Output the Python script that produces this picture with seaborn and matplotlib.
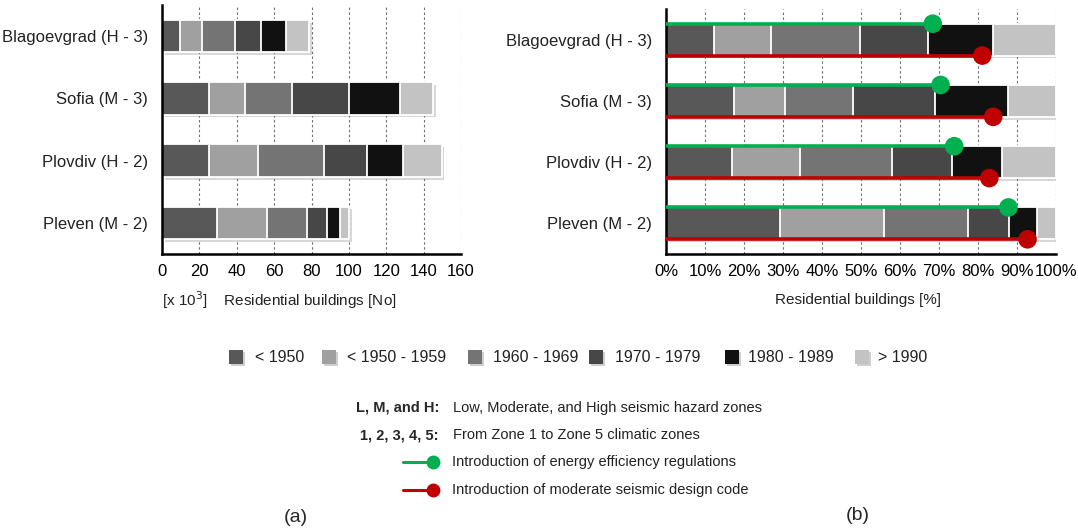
import numpy as np
import pandas as pd
import matplotlib.pyplot as plt
import matplotlib.patheffects as pe
from matplotlib.patches import Rectangle
from matplotlib.lines import Line2D
from matplotlib.ticker import FuncFormatter
import seaborn as sns

sns.set_style("white")
plt.rcParams['font.family'] = ['Liberation Sans', 'DejaVu Sans']

# ---------------- data ----------------
cities = ['Blagoevgrad (H - 3)', 'Sofia (M - 3)', 'Plovdiv (H - 2)', 'Pleven (M - 2)']
periods = ['< 1950', '< 1950 - 1959', '1960 - 1969', '1970 - 1979', '1980 - 1989', '> 1990']
colors = ['#585858', '#a0a0a0', '#747474', '#474747', '#111111', '#c3c3c3']

# residential buildings [x 10^3] per period
b_lt1950 = [9.8, 25.4, 25.4, 29.3]
b_1950s = [11.4, 18.8, 26.1, 26.8]
b_1960s = [18.0, 25.4, 35.2, 21.6]
b_1970s = [13.8, 30.5, 23.0, 10.5]
b_1980s = [13.2, 27.1, 19.0, 7.1]
b_gt1990 = [12.7, 17.9, 20.9, 5.0]

# share of buildings built before the regulation [%]
energy_eff = [68.4, 70.4, 73.9, 87.8]
seismic_code = [81.1, 83.9, 82.9, 92.7]

green = '#00b050'
red = '#c00000'

df = pd.DataFrame({periods[0]: b_lt1950, periods[1]: b_1950s, periods[2]: b_1960s,
                   periods[3]: b_1970s, periods[4]: b_1980s, periods[5]: b_gt1990},
                  index=cities)
pct = df.div(df.sum(axis=1), axis=0) * 100

W, H = 1078, 529
fig = plt.figure(figsize=(W / 100, H / 100), dpi=100)
ax1 = fig.add_axes([162 / W, 1 - 254 / H, (461 - 162) / W, (254 - 5) / H])
ax2 = fig.add_axes([666 / W, 1 - 254 / H, (1056 - 666) / W, (254 - 9) / H])

shadow = [pe.SimplePatchShadow(offset=(2, -2), shadow_rgbFace='#909090', alpha=0.35), pe.Normal()]


def stacked(ax, table):
    cum = table.cumsum(axis=1)
    for i in range(len(periods) - 1, -1, -1):
        sns.barplot(x=cum[periods[i]].values, y=cities, order=cities, orient='h',
                    color=colors[i], saturation=1, width=0.52, errorbar=None,
                    edgecolor='white', linewidth=1.3, ax=ax)
        if i == len(periods) - 1:
            for p in ax.patches:
                p.set_path_effects(shadow)


def style(ax):
    ax.set_xlabel('')
    ax.set_ylabel('')
    ax.set_ylim(3.5, -0.5)
    ax.set_axisbelow(True)
    ax.xaxis.grid(True, linestyle=(0, (2.2, 2.2)), color='#707070', linewidth=0.8)
    ax.yaxis.grid(False)
    for s in ['top', 'right']:
        ax.spines[s].set_visible(False)
    for s in ['left', 'bottom']:
        ax.spines[s].set_linewidth(1.8)
        ax.spines[s].set_color('black')
    ax.set_yticks(np.arange(-0.5, 4, 1), minor=True)
    ax.tick_params(axis='y', which='major', length=0, pad=10, labelsize=12, colors='#222222')
    ax.tick_params(axis='y', which='minor', length=4, width=1.5, direction='out')
    ax.tick_params(axis='x', which='major', length=7, width=1.3, direction='inout',
                   labelsize=12, pad=4, colors='black')


# (a) absolute numbers
stacked(ax1, df)
style(ax1)
ax1.set_xlim(0, 160)
ax1.set_xticks(np.arange(0, 161, 20))

# (b) shares with regulation markers
stacked(ax2, pct)
style(ax2)
ax2.set_xlim(0, 100)
ax2.set_xticks(np.arange(0, 101, 10))
ax2.xaxis.set_major_formatter(FuncFormatter(lambda v, _: f'{v:.0f}%'))

ypos = np.arange(len(cities))
ax2.hlines(ypos - 0.26, 0, energy_eff, color=green, linewidth=2.6, zorder=3)
ax2.hlines(ypos + 0.26, 0, seismic_code, color=red, linewidth=2.6, zorder=3)
sns.scatterplot(x=energy_eff, y=ypos - 0.26, color=green, s=180, edgecolor='none',
                legend=False, zorder=4, ax=ax2)
sns.scatterplot(x=seismic_code, y=ypos + 0.26, color=red, s=180, edgecolor='none',
                legend=False, zorder=4, ax=ax2)
ax2.set_xlabel('')
ax2.set_ylabel('')
ax2.set_ylim(3.5, -0.5)

# axis titles
fig.text(162 / W, 1 - 300 / H, r'[x 10$^3$]    Residential buildings [No]',
         fontsize=11, va='center', ha='left', color='#222222')
fig.text(858 / W, 1 - 300 / H, 'Residential buildings [%]',
         fontsize=11, va='center', ha='center', color='#222222')

# period legend
sq_x = [229, 322, 468, 589, 725, 855]
txt_x = [255, 347, 493, 615, 748, 878]
ly = 357
for c, lab, sx, tx in zip(colors, periods, sq_x, txt_x):
    fig.add_artist(Rectangle(((sx + 2) / W, 1 - (ly + 9) / H), 14 / W, 14 / H,
                             transform=fig.transFigure, facecolor='#b0b0b0',
                             edgecolor='none', alpha=0.6))
    fig.add_artist(Rectangle((sx / W, 1 - (ly + 7) / H), 14 / W, 14 / H,
                             transform=fig.transFigure, facecolor=c, edgecolor='none'))
    fig.text(tx / W, 1 - ly / H, lab, fontsize=11.5, va='center', ha='left', color='#222222')

# notes
fig.text(439 / W, 1 - 408 / H, 'L, M, and H:', fontsize=10.5, fontweight='bold',
         ha='right', va='center')
fig.text(453 / W, 1 - 408 / H, 'Low, Moderate, and High seismic hazard zones',
         fontsize=10.5, ha='left', va='center', color='#222222')
fig.text(439 / W, 1 - 435 / H, '1, 2, 3, 4, 5:', fontsize=10.5, fontweight='bold',
         ha='right', va='center')
fig.text(453 / W, 1 - 435 / H, 'From Zone 1 to Zone 5 climatic zones',
         fontsize=10.5, ha='left', va='center', color='#222222')
for col, yy, lab in [(green, 462, 'Introduction of energy efficiency regulations'),
                     (red, 490, 'Introduction of moderate seismic design code')]:
    fig.add_artist(Line2D([403 / W, 433 / W], [1 - yy / H, 1 - yy / H], color=col,
                          linewidth=2.2, transform=fig.transFigure))
    fig.add_artist(Line2D([433 / W], [1 - yy / H], marker='o', markersize=10, color=col,
                          markeredgecolor='none', transform=fig.transFigure))
    fig.text(452 / W, 1 - yy / H, lab, fontsize=10.5, ha='left', va='center', color='#222222')

fig.text(296 / W, 1 - 518 / H, '(a)', fontsize=14, ha='center', va='center')
fig.text(858 / W, 1 - 516 / H, '(b)', fontsize=14, ha='center', va='center')

fig.savefig('out.png', dpi=100)
